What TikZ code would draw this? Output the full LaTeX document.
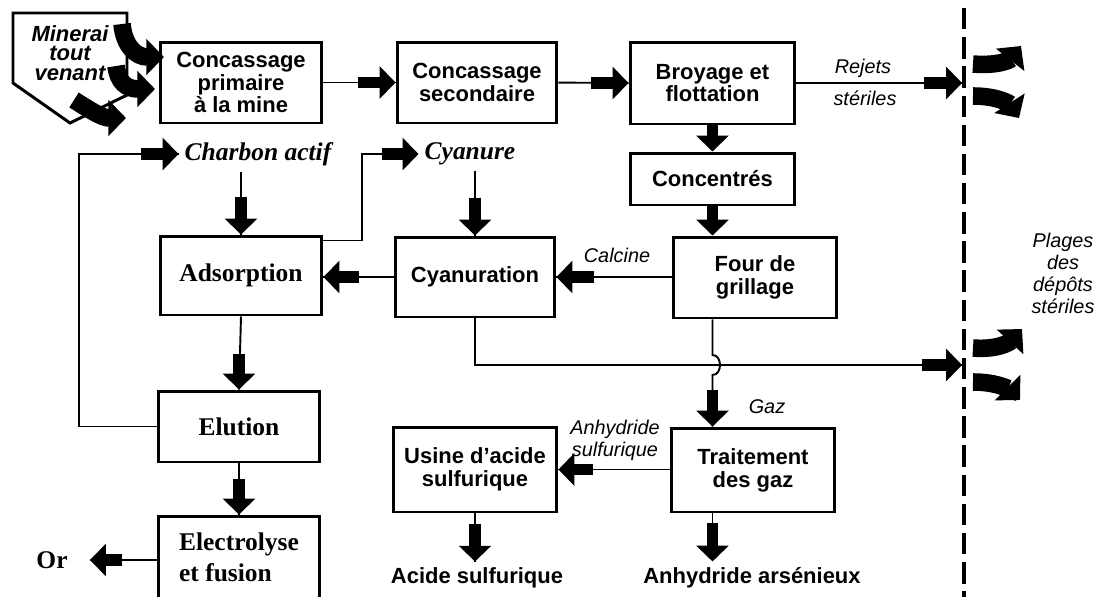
\documentclass[tikz,border=0pt]{standalone}
\usepackage{fontspec}
\setmainfont{Liberation Serif}
\setsansfont{Liberation Sans}
\usetikzlibrary{arrows.meta,calc}

\tikzset{
	box/.style={draw, line width=1.7pt, inner sep=0pt, align=center,
		font=\sffamily\bfseries\fontsize{12.5}{13}\selectfont},
	rbox/.style={box, font=\rmfamily\bfseries\fontsize{14.5}{17.6}\selectfont},
	lab/.style={align=center, font=\sffamily\itshape\fontsize{11.3}{12.5}\selectfont},
	rlab/.style={font=\rmfamily\bfseries\itshape\fontsize{14.5}{17}\selectfont},
	prod/.style={font=\sffamily\bfseries\fontsize{12.5}{13}\selectfont},
	wire/.style={line width=1.1pt},
	loopline/.style={line width=0.75pt},
	fat/.style={line width=6.8pt, -{Triangle[length=9pt,width=18pt]}},
	bent/.style={line width=10pt, -{Triangle[length=10pt,width=20pt]}},
	depot/.style={line width=2.3pt, dash pattern=on 12.2pt off 4.4pt}
}

\begin{document}
\begin{tikzpicture}[x=0.02cm, y=-0.02cm]
	\useasboundingbox (0,0) rectangle (1100,596);

	% minerai
	\draw[line width=1.7pt, line join=miter] (13,13) -- (127,13) -- (127,95) -- (70,123) -- (13,83) -- cycle;
	\node[align=center, font=\sffamily\bfseries\itshape\fontsize{12.5}{11.2}\selectfont] (minerai) at (70,53) {Minerai\\tout\\venant};

	% ligne du haut
	\node[box, minimum width=3.24cm, minimum height=1.62cm] (prim) at (241,82.5) {Concassage\\primaire\\à la mine};
	\node[box, minimum width=3.2cm, minimum height=1.62cm] (sec) at (477,82.5) {Concassage\\secondaire};
	\node[box, minimum width=3.3cm, minimum height=1.64cm] (broy) at (712.5,83) {Broyage et\\flottation};
	\node[box, minimum width=3.3cm, minimum height=1.04cm] (conc) at (712.5,179) {Concentrés};

	% ligne du milieu
	\node[box, minimum width=3.28cm, minimum height=1.62cm] (four) at (755,277.5) {Four de\\grillage};
	\node[box, minimum width=3.2cm, minimum height=1.6cm] (cyan) at (475,277) {Cyanuration};
	\node[rbox, minimum width=3.24cm, minimum height=1.58cm] (ads) at (241,275.5) {Adsorption};
	\node[rlab] (charbon) at (258,154) {Charbon actif};
	\node[rlab] (cyanure) at (470,154) {Cyanure};

	% bas
	\node[rbox, minimum width=3.24cm, minimum height=1.42cm] (elu) at (239,426.5) {Elution};
	\node[rbox, minimum width=3.24cm, minimum height=1.64cm, align=left] (elec) at (239,557) {Electrolyse\\et fusion};
	\node[font=\rmfamily\bfseries\fontsize{14.5}{17}\selectfont] (or) at (52,560) {Or};
	\coordinate (orin) at (90,560);
	\node[box, minimum width=3.28cm, minimum height=1.7cm] (usine) at (475,469.5) {Usine d’acide\\sulfurique};
	\node[box, minimum width=3.28cm, minimum height=1.68cm] (trait) at (753,470) {Traitement\\des gaz};
	\node[prod] (acide) at (477,578) {Acide sulfurique};
	\node[prod] (arsen) at (752,578) {Anhydride arsénieux};

	% depots
	\draw[depot] (964,8) -- (964,600);
	\coordinate (dep1) at (962,83);
	\coordinate (dep2) at (962,365);
	\node[lab] (plages) at (1063,273) {Plages\\des\\dépôts\\stériles};

	% labels
	\node[lab] (rejets) at (863,68) {Rejets};
	\node[lab] (steriles) at (865,98) {stériles};
	\node[lab] (calcine) at (617,255) {Calcine};
	\node[lab] (gaz) at (767,407) {Gaz};
	\node[lab] (anh) at (615,440) {Anhydride\\sulfurique};

	% fleches courbes
	\draw[bent] (122,24) .. controls (124,46) and (136,57) .. (164,57);
	\draw[bent] (116,66) .. controls (118,82) and (126,89) .. (155,89);
	\draw[bent] (74,100) .. controls (90,110) and (102,118) .. (126,118);
	\draw[bent] (973,64) .. controls (998,66) and (1010,60) .. (1021,46);
	\draw[bent] (973,96) .. controls (998,96) and (1010,104) .. (1019,118);
	\draw[bent] (973,348) .. controls (998,350) and (1010,342) .. (1022,329);
	\draw[bent] (973,382) .. controls (998,382) and (1010,390) .. (1020,400);

	% connexions
	\draw[wire] (prim) -- (sec);
	\draw[fat] ($(sec.west)+(-38,0)$) -- (sec.west);
	\draw[wire] (sec) -- (broy);
	\draw[fat] ($(broy.west)+(-38,0)$) -- (broy.west);
	\draw[wire] (broy.east |- dep1) -- (dep1);
	\draw[fat] ($(dep1)+(-38,0)$) -- (dep1);
	\draw[fat] (broy.south) -- (conc.north);
	\draw[fat] (conc.south) -- (four.north -| conc.south);

	\draw[wire] (four.west |- cyan) -- (cyan.east);
	\draw[fat] ($(cyan.east)+(38,0)$) -- (cyan.east);
	\draw[wire] (cyan.west) -- (cyan.west -| ads.east);
	\draw[fat] ($(cyan.west -| ads.east)+(36,0)$) -- (cyan.west -| ads.east);

	\draw[wire] (charbon.south -| ads.north) -- (ads.north);
	\draw[fat] ($(ads.north)+(0,-38)$) -- (ads.north);
	\draw[wire] (cyanure.south -| cyan.north) -- (cyan.north);
	\draw[fat] ($(cyan.north)+(0,-38)$) -- (cyan.north);

	\coordinate (loopa) at (79,154);
	\coordinate (loopb) at (362,154);
	\draw[loopline] (elu.west) -| (loopa) -- (charbon.west);
	\draw[fat] ($(charbon.west)+(-38,0)$) -- (charbon.west);
	\draw[loopline] ($(ads.north east)+(0,6)$) -| (loopb) -- (cyanure.west);
	\draw[fat] ($(cyanure.west)+(-36,0)$) -- (cyanure.west);

	\draw[wire] (ads.south) -- (elu.north);
	\draw[fat] ($(elu.north)+(0,-36)$) -- (elu.north);
	\draw[wire] (elu.south) -- (elec.north);
	\draw[fat] ($(elec.north)+(0,-36)$) -- (elec.north);
	\draw[wire] (elec.west |- orin) -- (orin);
	\draw[fat] ($(orin)+(32,0)$) -- (orin);

	\draw[wire] (cyan.south) |- (dep2);
	\draw[fat] ($(dep2)+(-40,0)$) -- (dep2);

	\coordinate (hop) at (conc.south |- dep2);
	\draw[wire] (four.south -| conc.south) -- ($(hop)+(0,-10)$)
		.. controls +(10,0) and +(10,0) .. ($(hop)+(0,10)$) -- (trait.north -| conc.south);
	\draw[fat] ($(trait.north -| conc.south)+(0,-37)$) -- (trait.north -| conc.south);

	\draw[wire] (trait.west |- usine) -- (usine.east);
	\draw[fat] ($(usine.east)+(35,0)$) -- (usine.east);
	\draw[wire] (usine.south) -- (acide.north -| usine.south);
	\draw[fat] ($(acide.north -| usine.south)+(0,-38)$) -- (acide.north -| usine.south);
	\draw[wire] (trait.south -| conc.south) -- (arsen.north -| conc.south);
	\draw[fat] ($(arsen.north -| conc.south)+(0,-38)$) -- (arsen.north -| conc.south);
\end{tikzpicture}
\end{document}
